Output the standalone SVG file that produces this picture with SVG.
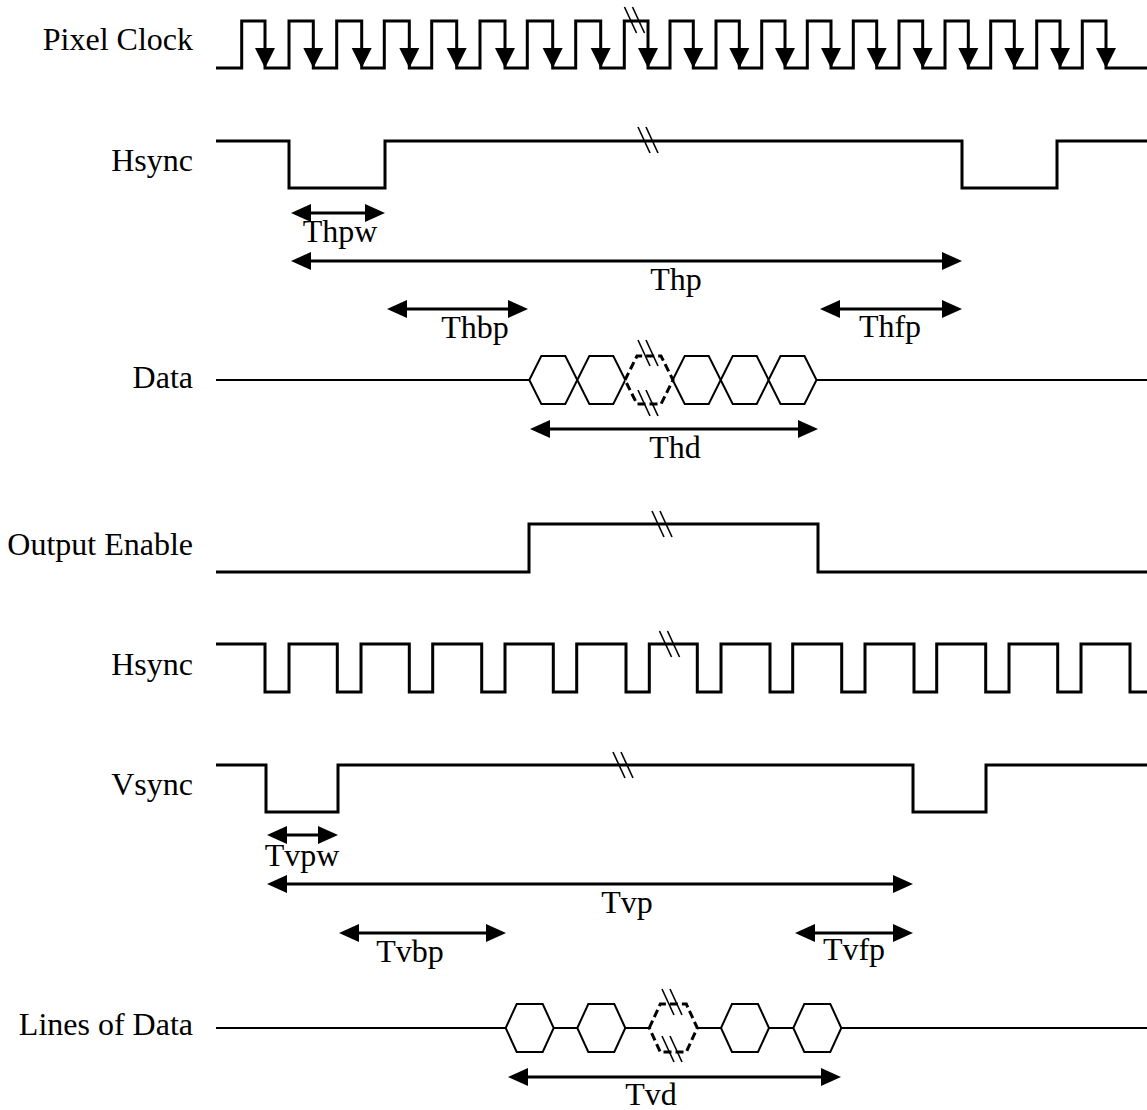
<svg xmlns="http://www.w3.org/2000/svg" xmlns:xlink="http://www.w3.org/1999/xlink" width="1147" height="1110" viewBox="0 0 1147 1110">
<style>
.lbl{font-family:"Liberation Serif","Times New Roman",serif;font-size:32px;fill:#000}
.lbl.r{text-anchor:end}
.lbl.c{text-anchor:middle}
.wave{fill:none;stroke:#000;stroke-width:3;stroke-linejoin:miter}
.thin{fill:none;stroke:#000;stroke-width:2}
.hex{fill:#fff;stroke:#000;stroke-width:2}
.hexd{fill:#fff;stroke:#000;stroke-width:3;stroke-dasharray:8 4}
.brk{stroke:#000;stroke-width:1.6;fill:none}
.dim{stroke:#000;stroke-width:3;fill:none;marker-start:url(#ah);marker-end:url(#ah)}
</style>
<defs>
<marker id="ah" markerUnits="userSpaceOnUse" markerWidth="20" markerHeight="18" viewBox="0 0 20 18" refX="5" refY="9" orient="auto-start-reverse">
<path d="M0,0 L20,9 L0,18 Z" fill="#000"/>
</marker>
<polygon id="clkarrow" points="-10,-20 10,-20 0,0" fill="#000"/>
<g id="brkmark" class="brk"><line x1="-10" y1="-13" x2="2" y2="13"/><line x1="-2" y1="-13" x2="10" y2="13"/></g>
<polygon id="hexA" points="0,0 12,-24 36,-24 48,0 36,24 12,24"/>
<polygon id="hexB" points="0,0 11,-24 37,-24 48,0 37,24 11,24"/>
</defs>
<rect width="1147" height="1110" fill="#fff"/>

<g id="pixel-clock">
<text class="lbl r" x="193" y="50">Pixel Clock</text>
<path class="wave" d="M216,68 H241.7 V21 H265 V68 H289 V21 H313.3 V68 H336.7 V21 H361.7 V68 H384.3 V21 H409.3 V68 H431.7 V21 H456.7 V68 H480 V21 H505 V68 H527.3 V21 H552.7 V68 H575.7 V21 H600.7 V68 H624.3 V21 H648 V68 H670 V21 H693.3 V68 H716 V21 H739.3 V68 H761.7 V21 H785 V68 H807.3 V21 H831 V68 H853.3 V21 H876.7 V68 H899 V21 H922.7 V68 H945 V21 H968.3 V68 H990.7 V21 H1014.3 V68 H1036.7 V21 H1060 V68 H1082.3 V21 H1106 V68 H1147"/>
<use xlink:href="#clkarrow" x="265" y="68"/>
<use xlink:href="#clkarrow" x="313.3" y="68"/>
<use xlink:href="#clkarrow" x="361.7" y="68"/>
<use xlink:href="#clkarrow" x="409.3" y="68"/>
<use xlink:href="#clkarrow" x="456.7" y="68"/>
<use xlink:href="#clkarrow" x="505" y="68"/>
<use xlink:href="#clkarrow" x="552.7" y="68"/>
<use xlink:href="#clkarrow" x="600.7" y="68"/>
<use xlink:href="#clkarrow" x="648" y="68"/>
<use xlink:href="#clkarrow" x="693.3" y="68"/>
<use xlink:href="#clkarrow" x="739.3" y="68"/>
<use xlink:href="#clkarrow" x="785" y="68"/>
<use xlink:href="#clkarrow" x="831" y="68"/>
<use xlink:href="#clkarrow" x="876.7" y="68"/>
<use xlink:href="#clkarrow" x="922.7" y="68"/>
<use xlink:href="#clkarrow" x="968.3" y="68"/>
<use xlink:href="#clkarrow" x="1014.3" y="68"/>
<use xlink:href="#clkarrow" x="1060" y="68"/>
<use xlink:href="#clkarrow" x="1106" y="68"/>
<use xlink:href="#brkmark" x="634.5" y="20"/>
</g>

<g id="hsync-line">
<text class="lbl r" x="193" y="171">Hsync</text>
<path class="wave" d="M216,141 H289 V188 H385 V141 H962 V188 H1057 V141 H1147"/>
<use xlink:href="#brkmark" x="648" y="140"/>
</g>

<g id="data">
<text class="lbl r" x="193" y="388">Data</text>
<path class="thin" d="M216,380 H529.3 M816.7,380 H1147"/>
<use xlink:href="#hexA" class="hex" x="529.3" y="380"/>
<use xlink:href="#hexA" class="hex" x="577.3" y="380"/>
<use xlink:href="#hexA" class="hex" x="672.7" y="380"/>
<use xlink:href="#hexA" class="hex" x="720.7" y="380"/>
<use xlink:href="#hexA" class="hex" x="768.5" y="380"/>
<use xlink:href="#hexA" class="hexd" x="625" y="380"/>
<use xlink:href="#brkmark" x="648" y="353"/>
<use xlink:href="#brkmark" x="648" y="403"/>
</g>

<g id="output-enable">
<text class="lbl r" x="193" y="555">Output Enable</text>
<path class="wave" d="M216,572 H529 V524 H818 V572 H1147"/>
<use xlink:href="#brkmark" x="662" y="524"/>
</g>

<g id="hsync-frame">
<text class="lbl r" x="193" y="675">Hsync</text>
<path class="wave" d="M216,644 H265 V692 H289 V644 H337.3 V692 H361 V644 H409.3 V692 H432.7 V644 H481.7 V692 H505 V644 H553.3 V692 H576.7 V644 H626 V692 H649.3 V644 H697.3 V692 H721 V644 H770 V692 H792.7 V644 H841.7 V692 H865 V644 H914 V692 H936.7 V644 H985.7 V692 H1009 V644 H1057.7 V692 H1081 V644 H1130 V692 H1147"/>
<use xlink:href="#brkmark" x="669.5" y="644"/>
</g>

<g id="vsync">
<text class="lbl r" x="193" y="795">Vsync</text>
<path class="wave" d="M216,765 H266 V812 H338 V765 H913 V812 H986 V765 H1147"/>
<use xlink:href="#brkmark" x="623" y="765"/>
</g>

<g id="lines-of-data">
<text class="lbl r" x="193" y="1035">Lines of Data</text>
<path class="thin" d="M216,1028 H1147"/>
<use xlink:href="#hexB" class="hex" x="505.7" y="1028"/>
<use xlink:href="#hexB" class="hex" x="577.3" y="1028"/>
<use xlink:href="#hexB" class="hex" x="721" y="1028"/>
<use xlink:href="#hexB" class="hex" x="793.3" y="1028"/>
<use xlink:href="#hexB" class="hexd" x="649.3" y="1028"/>
<use xlink:href="#brkmark" x="672" y="1002"/>
<use xlink:href="#brkmark" x="672" y="1049"/>
</g>

<g id="connectors">
<line class="dim" x1="306" y1="213" x2="370" y2="213"/>
<line class="dim" x1="306" y1="261" x2="947" y2="261"/>
<line class="dim" x1="402" y1="309" x2="513" y2="309"/>
<line class="dim" x1="835" y1="309" x2="947" y2="309"/>
<line class="dim" x1="545" y1="429" x2="803" y2="429"/>
<line class="dim" x1="282" y1="835" x2="323" y2="835"/>
<line class="dim" x1="282" y1="884" x2="898" y2="884"/>
<line class="dim" x1="354" y1="933" x2="491" y2="933"/>
<line class="dim" x1="810" y1="933" x2="898" y2="933"/>
<line class="dim" x1="523" y1="1077" x2="826" y2="1077"/>
</g>

<g id="dimension-labels">
<text class="lbl c" x="340" y="242">Thpw</text>
<text class="lbl c" x="676" y="290">Thp</text>
<text class="lbl c" x="475" y="338">Thbp</text>
<text class="lbl c" x="890" y="337">Thfp</text>
<text class="lbl c" x="675" y="458">Thd</text>
<text class="lbl c" x="302" y="866">Tvpw</text>
<text class="lbl c" x="627" y="913">Tvp</text>
<text class="lbl c" x="410" y="962">Tvbp</text>
<text class="lbl c" x="854" y="960">Tvfp</text>
<text class="lbl c" x="651" y="1105">Tvd</text>
</g>
</svg>
